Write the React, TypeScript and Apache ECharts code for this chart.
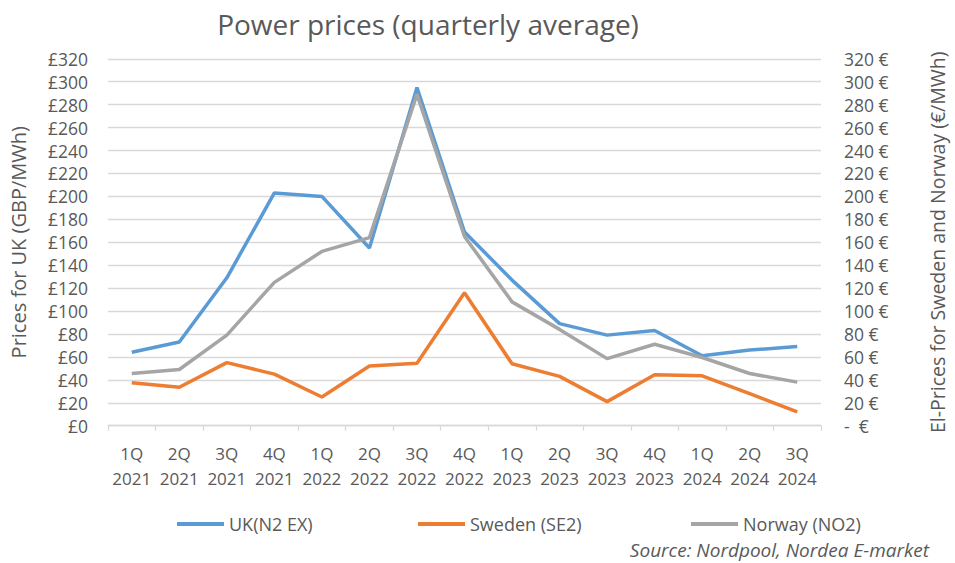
import React, { useEffect, useRef } from "react";
import * as echarts from "echarts";

const categories = [
  "1Q\n2021", "2Q\n2021", "3Q\n2021", "4Q\n2021",
  "1Q\n2022", "2Q\n2022", "3Q\n2022", "4Q\n2022",
  "1Q\n2023", "2Q\n2023", "3Q\n2023", "4Q\n2023",
  "1Q\n2024", "2Q\n2024", "3Q\n2024",
];
const ukValues = [64, 73, 129, 203, 200, 155, 295, 169, 127, 89, 79, 83, 61, 66, 69];
const swedenValues = [37.5, 33.5, 55, 45, 25, 52, 54.5, 116, 54, 43, 21, 44.5, 43.5, 28, 12];
const norwayValues = [45.5, 49, 79, 125, 152, 164, 289, 165, 108, 84, 58.5, 71, 59.5, 45.5, 38];

const titleText = "Power prices (quarterly average)";
const leftAxisName = "Prices for UK (GBP/MWh)";
const rightAxisName = "El-Prices for Sweden and Norway (€/MWh)";
const sourceText = "Source: Nordpool, Nordea E-market";
const seriesNames = ["UK(N2 EX)", "Sweden (SE2)", "Norway (NO2)"];
const seriesColors = ["#5B9BD5", "#ED7D31", "#A5A5A5"];

const FONT = "'Open Sans', 'Noto Sans', sans-serif";
const TXT = "#595959";

export default function App() {
  const ref = useRef<HTMLDivElement>(null);
  useEffect(() => {
    if (!ref.current) return;
    const chart = echarts.init(ref.current, null, { renderer: "svg" });
    const lineSeries = (name: string, data: number[], color: string, axis: number) => ({
      name,
      type: "line",
      data,
      yAxisIndex: axis,
      showSymbol: false,
      symbol: "none",
      lineStyle: { color, width: 3.5 },
      itemStyle: { color },
    });
    const legendItem = (name: string, left: number) => ({
      data: [name],
      left,
      top: 510,
      icon: "rect",
      itemWidth: 47,
      itemHeight: 4,
      textStyle: { color: TXT, fontSize: 18, fontFamily: FONT },
      selectedMode: false,
    });
    chart.setOption({
      animation: false,
      backgroundColor: "#ffffff",
      title: {
        text: titleText,
        left: 423,
        textAlign: "center",
        top: 5,
        textStyle: { color: TXT, fontSize: 28, fontWeight: "normal", fontFamily: FONT },
      },
      grid: { left: 102, right: 116, top: 58.8, bottom: 137.3, containLabel: false },
      legend: [
        legendItem(seriesNames[0], 172),
        legendItem(seriesNames[1], 413),
        legendItem(seriesNames[2], 686),
      ],
      xAxis: {
        type: "category",
        data: categories,
        boundaryGap: true,
        axisLine: { lineStyle: { color: "#D9D9D9", width: 1.3 } },
        axisTick: { show: true, length: 5, lineStyle: { color: "#D9D9D9", width: 1.3 } },
        axisLabel: {
          color: TXT,
          fontSize: 17,
          fontFamily: FONT,
          lineHeight: 25,
          margin: 15,
          interval: 0,
        },
      },
      yAxis: [
        {
          type: "value",
          min: 0,
          max: 320,
          interval: 20,
          name: leftAxisName,
          nameLocation: "middle",
          nameRotate: 90,
          nameGap: 80,
          nameTextStyle: { color: TXT, fontSize: 20, fontFamily: FONT },
          axisLine: { show: false },
          axisTick: { show: false },
          splitLine: { lineStyle: { color: "#D9D9D9", width: 1.3 } },
          axisLabel: {
            color: TXT,
            fontSize: 17.5,
            fontFamily: FONT,
            margin: 20,
            formatter: (v: number) => "£" + v,
          },
        },
        {
          type: "value",
          min: 0,
          max: 320,
          interval: 20,
          position: "right",
          name: rightAxisName,
          nameLocation: "middle",
          nameRotate: 90,
          nameGap: 106,
          nameTextStyle: { color: TXT, fontSize: 19.5, fontFamily: FONT },
          axisLine: { show: false },
          axisTick: { show: false },
          splitLine: { show: false },
          axisLabel: {
            color: TXT,
            fontSize: 17.5,
            fontFamily: FONT,
            margin: 23,
            formatter: (v: number) => (v === 0 ? "-  €" : v + " €"),
          },
        },
      ],
      graphic: [
        {
          type: "text",
          right: 955 - 929,
          top: 540,
          style: {
            text: sourceText,
            fill: TXT,
            font: `italic 19px ${FONT}`,
          },
        },
      ],
      series: [
        lineSeries(seriesNames[0], ukValues, seriesColors[0], 0),
        lineSeries(seriesNames[1], swedenValues, seriesColors[1], 1),
        lineSeries(seriesNames[2], norwayValues, seriesColors[2], 1),
      ],
    });
    return () => chart.dispose();
  }, []);
  return (
    <div
      ref={ref}
      style={{ position: "fixed", left: 0, top: 0, width: 955, height: 563, background: "#fff" }}
    />
  );
}
